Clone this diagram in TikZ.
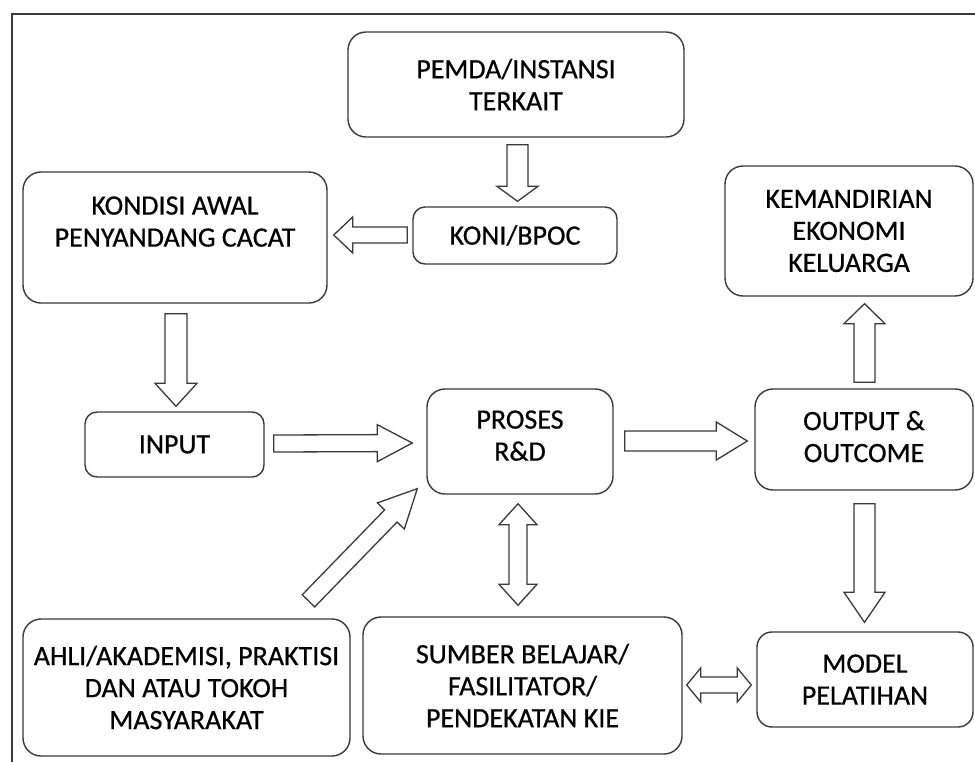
\documentclass[tikz,border=0pt]{standalone}
\usepackage{fontspec}
\setmainfont{Carlito}
\newfontfamily\boxfont{Carlito}[FakeBold=0.6]
\usetikzlibrary{calc}
\definecolor{linec}{HTML}{3A3A3A}
\tikzset{
  box/.style={draw=linec, line width=1.4pt, rounded corners=18pt, align=center,
    inner sep=0pt, font=\boxfont\fontsize{28}{32}\selectfont},
  smallbox/.style={box, rounded corners=12pt},
  arr/.style={draw=linec, line width=1.3pt, fill=white, line join=miter},
  frame/.style={draw=linec, line width=1.4pt},
}
\newcommand\blockarrow[5]{%
  \coordinate (ba-s) at #1; \coordinate (ba-e) at #2;
  \coordinate (ba-h) at ($(ba-e)!#5!(ba-s)$);
  \draw[arr] ($(ba-s)!#3!90:(ba-e)$) -- ($(ba-h)!#3!-90:(ba-s)$) -- ($(ba-h)!#4!-90:(ba-s)$)
    -- (ba-e) -- ($(ba-h)!#4!90:(ba-s)$) -- ($(ba-h)!#3!90:(ba-s)$) -- ($(ba-s)!#3!-90:(ba-e)$) -- cycle;}
\newcommand\dblarrow[5]{%
  \coordinate (da-a) at #1; \coordinate (da-b) at #2;
  \coordinate (da-ha) at ($(da-a)!#5!(da-b)$);
  \coordinate (da-hb) at ($(da-b)!#5!(da-a)$);
  \draw[arr] (da-a) -- ($(da-ha)!#4!90:(da-b)$) -- ($(da-ha)!#3!90:(da-b)$) -- ($(da-hb)!#3!-90:(da-a)$)
    -- ($(da-hb)!#4!-90:(da-a)$) -- (da-b) -- ($(da-hb)!#4!90:(da-a)$) -- ($(da-hb)!#3!90:(da-a)$)
    -- ($(da-ha)!#3!-90:(da-b)$) -- ($(da-ha)!#4!-90:(da-b)$) -- cycle;}
\begin{document}
\begin{tikzpicture}[x=1pt,y=-1pt]
\useasboundingbox (0,0) rectangle (975,761);
\clip (0,0) rectangle (975,761);
\fill[white] (0,0) rectangle (975,761);
\draw[frame] (12,14) rectangle (995,781);

\node[box, minimum width=336pt, minimum height=105pt] (pemda) at (516,84.5) {PEMDA/INSTANSI\\TERKAIT};
\node[smallbox, minimum width=204pt, minimum height=57pt] (koni) at (515,235.5) {KONI/BPOC};
\node[box, minimum width=304pt, minimum height=131pt] (kondisi) at (175,237.5) {KONDISI AWAL\\PENYANDANG CACAT\\~};
\node[box, minimum width=248pt, minimum height=130pt] (kem) at (849,231) {KEMANDIRIAN\\EKONOMI\\KELUARGA};
\node[smallbox, minimum width=179pt, minimum height=65pt] (input) at (174.5,444.5) {INPUT};
\node[box, minimum width=186pt, minimum height=105pt] (proses) at (520,441.5) {PROSES\\R\&D\\[-20pt]~};
\node[box, minimum width=218pt, minimum height=101pt] (output) at (864,439.5) {OUTPUT \&\\OUTCOME\\[-26pt]~};
\node[box, minimum width=327pt, minimum height=137pt] (ahli) at (186.5,687.5) {AHLI/AKADEMISI, PRAKTISI\\DAN ATAU TOKOH\\MASYARAKAT};
\node[box, minimum width=319pt, minimum height=137pt] (sumber) at (522.5,685.5) {SUMBER BELAJAR/\\FASILITATOR/\\PENDEKATAN KIE};
\node[box, rounded corners=15pt, minimum width=216pt, minimum height=95pt] (model) at (865,679.5) {MODEL\\PELATIHAN};

\blockarrow{($(pemda.south)+(1.5,7)$)}{($(koni.north)+(2.5,-5)$)}{10.5pt}{20.5pt}{15pt}
\blockarrow{($(koni.west)+(-5,-0.5)$)}{($(kondisi.east)+(6,-2.5)$)}{8pt}{18pt}{19pt}
\blockarrow{($(kondisi.south)+(1,10)$)}{($(input.north)+(1.5,-5)$)}{11pt}{21pt}{23pt}
\blockarrow{($(input.east)+(9,-1)$)}{($(proses.west)+(-14,1.5)$)}{8.5pt}{18.5pt}{35pt}
\blockarrow{($(proses.east)+(11,-0.5)$)}{($(output.west)+(-7,1.5)$)}{10pt}{19pt}{31pt}
\blockarrow{($(output.north)+(0.5,-6)$)}{($(kem.south)+(15.5,7)$)}{10.5pt}{20.5pt}{20pt}
\blockarrow{($(output.south)+(0.5,13)$)}{($(model.north)+(-0.5,-9)$)}{10.5pt}{20.5pt}{30pt}
\blockarrow{($(ahli.north)+(122,-17.5)$)}{($(proses.south west)+(-9,-6)$)}{8.7pt}{18.8pt}{38pt}
\dblarrow{($(proses.south)+(-2,9)$)}{($(sumber.north)+(-4.5,-11)$)}{9pt}{19pt}{21pt}
\dblarrow{($(sumber.east)+(4,-0.5)$)}{($(model.west)+(-5,5.5)$)}{8pt}{17pt}{14pt}
\end{tikzpicture}
\end{document}
